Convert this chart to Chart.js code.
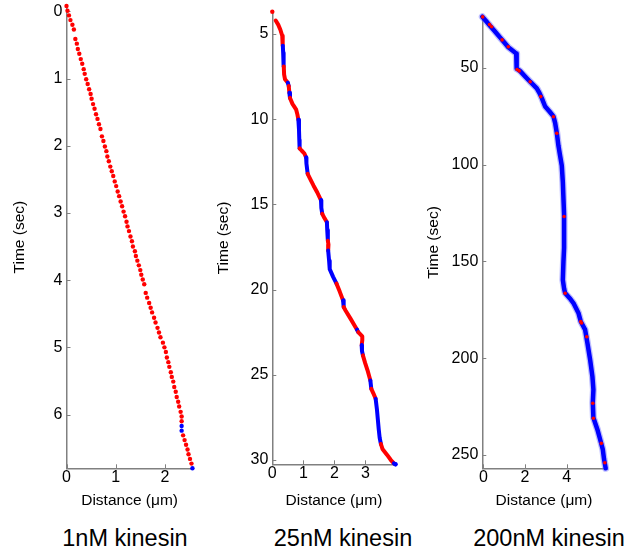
<!DOCTYPE html>
<html>
<head>
<meta charset="utf-8">
<script src="https://cdn.jsdelivr.net/npm/chart.js@4.4.0/dist/chart.umd.min.js"></script>
<style>
html,body{margin:0;padding:0;background:#fff;width:627px;height:552px;overflow:hidden;}
.panel{position:absolute;top:0;}
.cap{position:absolute;top:527px;font-family:'Liberation Sans',Arial,Helvetica,sans-serif;font-size:23.5px;line-height:23.5px;color:#000;white-space:nowrap;transform:translateX(-50%);}
</style>
</head>
<body>
<div class="panel" style="left:0px"><canvas id="c1" width="210" height="510"></canvas></div>
<div class="panel" style="left:210px"><canvas id="c2" width="210" height="510"></canvas></div>
<div class="panel" style="left:420px"><canvas id="c3" width="207" height="510"></canvas></div>
<div class="cap" style="left:125px">1nM kinesin</div>
<div class="cap" style="left:343px">25nM kinesin</div>
<div class="cap" style="left:549px">200nM kinesin</div>
<script>
// ---------------- DATA ----------------
const panelTitles = ['1nM kinesin', '25nM kinesin', '200nM kinesin'];
const xAxisTitle = 'Distance (\u03bcm)';
const yAxisTitle = 'Time (sec)';

// Panel 1 (1nM): individual frames
const time1 = [-0.08, -0.01, 0.06, 0.13, 0.20, 0.27,
 0.41, 0.48, 0.56, 0.63, 0.71, 0.78, 0.86, 0.93, 1.01, 1.08, 1.16, 1.23, 1.30, 1.38, 1.45, 1.53, 1.60, 1.68, 1.75,
 1.86, 1.93, 2.01, 2.08, 2.16, 2.23, 2.31, 2.38, 2.45, 2.53, 2.60, 2.68, 2.75, 2.83, 2.90, 2.98, 3.05, 3.13, 3.20, 3.27, 3.35, 3.42, 3.50,
 3.57, 3.64, 3.71, 3.78, 3.85, 3.92, 3.99, 4.06,
 4.19, 4.26, 4.34, 4.41, 4.48, 4.56, 4.63, 4.71, 4.78, 4.85, 4.93, 5.00, 5.07, 5.15, 5.22, 5.29, 5.37, 5.44, 5.51, 5.59, 5.66, 5.74, 5.81, 5.88, 5.96, 6.03,
 6.10, 6.17, 6.24,
 6.31, 6.38, 6.45, 6.52, 6.59, 6.66, 6.73, 6.80];
const dist1 = [0.00, 0.02, 0.05, 0.08, 0.12, 0.15,
 0.18, 0.21, 0.23, 0.26, 0.29, 0.32, 0.35, 0.37, 0.40, 0.43, 0.46, 0.49, 0.51, 0.54, 0.57, 0.60, 0.63, 0.66, 0.69,
 0.72, 0.75, 0.78, 0.81, 0.83, 0.86, 0.89, 0.92, 0.95, 0.98, 1.01, 1.04, 1.07, 1.10, 1.13, 1.16, 1.19, 1.22, 1.24, 1.27, 1.30, 1.33, 1.35,
 1.39, 1.41, 1.44, 1.47, 1.50, 1.52, 1.55, 1.58,
 1.61, 1.64, 1.68, 1.71, 1.74, 1.78, 1.81, 1.85, 1.88, 1.91, 1.96, 1.99, 2.02, 2.04, 2.07, 2.09, 2.12, 2.14, 2.17, 2.19, 2.22, 2.24, 2.27, 2.29, 2.32, 2.34,
 2.34, 2.34, 2.34,
 2.37, 2.40, 2.43, 2.46, 2.48, 2.51, 2.54, 2.56];
const blueTimes1 = [6.17, 6.24, 6.80];
const xTicks1 = [0, 1, 2];
const yTicks1 = [0, 1, 2, 3, 4, 5, 6];

// Panel 2 (25nM): trace with state of each stretch (r = moving, b = paused, n = no link)
const time2 = [3.69, 4.21, 4.45, 4.75, 5.10, 5.40, 5.69, 6.10, 6.50, 6.90, 7.37, 7.66, 7.86, 8.05, 8.45, 8.75, 9.10, 9.44, 9.73,
 10.03, 10.60, 11.20, 11.71, 11.85, 12.00, 12.25, 12.60, 13.20, 13.50, 13.90, 14.30, 14.76, 15.20, 15.55, 15.80, 16.05, 16.50,
 17.13, 17.35, 17.70, 18.30, 18.80, 19.25, 19.65, 20.10, 20.63, 21.02, 21.22, 21.70, 22.10, 22.35, 22.50, 22.75, 22.95, 23.27,
 23.60, 23.86, 24.30, 24.80, 25.33, 25.82, 26.10, 26.41, 27.00, 27.60, 28.20, 28.70, 29.06, 29.35, 29.70, 30.00, 30.20, 30.25];
const dist2 = [0.00, 0.11, 0.19, 0.26, 0.32, 0.33, 0.34, 0.35, 0.36, 0.37, 0.38, 0.41, 0.50, 0.53, 0.55, 0.57, 0.65, 0.77, 0.81,
 0.84, 0.86, 0.87, 0.88, 0.95, 1.03, 1.09, 1.10, 1.14, 1.22, 1.33, 1.45, 1.57, 1.58, 1.61, 1.68, 1.76, 1.77,
 1.79, 1.81, 1.80, 1.83, 1.85, 1.96, 2.07, 2.17, 2.28, 2.30, 2.36, 2.52, 2.65, 2.73, 2.77, 2.90, 2.90, 2.88,
 2.89, 2.92, 2.99, 3.08, 3.16, 3.19, 3.26, 3.33, 3.37, 3.40, 3.43, 3.46, 3.50, 3.55, 3.70, 3.82, 3.92, 3.97];
const state2 = ['n','r','r','r','r','r','b','b','b','r','r','r','b','r','b','r','r','r','r',
 'b','b','b','r','r','r','b','b','r','r','r','r','b','b','r','r','b','b',
 'r','r','b','b','b','b','r','r','b','r','r','r','r','b','r','r','r','b',
 'b','r','r','r','b','r','r','b','b','b','b','b','r','r','r','r','b','b'];
const xTicks2 = [0, 1, 2, 3];
const yTicks2 = [5, 10, 15, 20, 25, 30];

// Panel 3 (200nM): trace and red (moving) spots
const time3 = [23.5, 26.0, 28.2, 31.0, 34.2, 37.0, 39.3, 41.0, 42.5, 46.0, 50.3, 51.5, 54.5, 57.1, 60.5, 63.0, 65.6, 69.9, 72.5, 75.0,
 78.4, 83.5, 90.3, 95.4, 100.5, 109.0, 117.5, 126.0, 134.5, 143.0, 150.0, 159.5, 164.0, 166.3, 169.0, 171.5, 176.6, 181.0, 185.2, 192.1,
 200.7, 209.3, 216.2, 223.0, 230.8, 236.8, 241.9, 247.1, 252.2, 256.9];
const dist3 = [-0.05, 0.15, 0.32, 0.55, 0.80, 1.02, 1.20, 1.40, 1.58, 1.60, 1.60, 1.76, 2.02, 2.25, 2.57, 2.70, 2.81, 2.97, 3.18, 3.37,
 3.45, 3.53, 3.61, 3.69, 3.77, 3.82, 3.85, 3.88, 3.88, 3.88, 3.85, 3.82, 3.88, 3.93, 4.15, 4.33, 4.57, 4.68, 4.89, 5.00,
 5.13, 5.24, 5.29, 5.26, 5.29, 5.48, 5.61, 5.74, 5.80, 5.88];
const redTime3 = [23.6, 27.5, 28.7, 35.5, 39.0, 50.8, 51.5, 57.1, 64.8, 75.2, 83.7, 126.8, 166.4, 181.1, 181.8, 188.9, 223.3, 231.0, 244.0, 254.0];
const redDist3 = [-0.03, 0.30, 0.40, 0.90, 1.20, 1.62, 1.72, 2.25, 2.76, 3.37, 3.53, 3.88, 3.93, 4.68, 4.72, 4.97, 5.26, 5.29, 5.67, 5.84];
const xTicks3 = [0, 2, 4];
const yTicks3 = [50, 100, 150, 200, 250];

// ---------------- STYLE ----------------
const FONT = "'Liberation Sans', Arial, Helvetica, sans-serif";
const AXIS = '#808080';
const RED = '#ff0000';
const BLUE = '#0000ff';
const TICK_SIZE = 16;
const TITLE_SIZE = 15.5;

function pts(xs, ys) { return xs.map((v, i) => ({ x: v, y: ys[i] })); }

const inwardTicks = {
  id: 'inwardTicks',
  beforeDatasetsDraw(chart) {
    const ctx = chart.ctx, a = chart.chartArea, xs = chart.scales.x, ys = chart.scales.y;
    ctx.save();
    ctx.strokeStyle = AXIS;
    ctx.lineWidth = 1;
    ctx.beginPath();
    xs.ticks.forEach(t => {
      const px = Math.round(xs.getPixelForValue(t.value)) + 0.5;
      ctx.moveTo(px, a.bottom); ctx.lineTo(px, a.bottom - 4);
    });
    ys.ticks.forEach(t => {
      const py = Math.round(ys.getPixelForValue(t.value)) + 0.5;
      ctx.moveTo(a.left, py); ctx.lineTo(a.left + 4, py);
    });
    ctx.stroke();
    ctx.restore();
  }
};

function makeChart(id, p, datasets) {
  return new Chart(document.getElementById(id), {
    type: 'line',
    data: { datasets },
    options: {
      responsive: false, animation: false, events: [],
      layout: { padding: { top: p.padTop, right: p.padRight, left: 0, bottom: 0 } },
      plugins: { legend: { display: false }, tooltip: { enabled: false }, title: { display: false } },
      scales: {
        x: {
          type: 'linear', position: 'bottom', min: p.xr[0], max: p.xr[1],
          grid: { display: false, drawTicks: false },
          border: { display: true, color: AXIS, width: 1.5 },
          ticks: { color: '#000', font: { family: FONT, size: TICK_SIZE }, padding: 0, autoSkip: false, maxRotation: 0, callback: v => String(v) },
          afterBuildTicks: s => { s.ticks = p.xt.map(v => ({ value: v })); },
          afterFit: s => { s.height = p.xH; s.paddingLeft = 0; s.paddingRight = 0; },
          title: { display: true, text: xAxisTitle, color: '#000', font: { family: FONT, size: TITLE_SIZE }, padding: { top: 0, bottom: p.xTitlePad } }
        },
        y: {
          type: 'linear', position: 'left', reverse: true, min: p.yr[0], max: p.yr[1],
          grid: { display: false, drawTicks: false },
          border: { display: true, color: AXIS, width: 1.5 },
          ticks: { color: '#000', font: { family: FONT, size: TICK_SIZE }, padding: 4, autoSkip: false, callback: v => String(v) },
          afterBuildTicks: s => { s.ticks = p.yt.map(v => ({ value: v })); },
          afterFit: s => { s.width = p.yW; s.paddingTop = 0; s.paddingBottom = 0; },
          title: { display: true, text: yAxisTitle, color: '#000', font: { family: FONT, size: TITLE_SIZE }, padding: { top: p.yTitlePad, bottom: 0 } }
        }
      }
    },
    plugins: [inwardTicks]
  });
}

// Panel 1
makeChart('c1', { padTop: 6, padRight: 17.3, xH: 41.7, yW: 66.5, xTitlePad: 0, yTitlePad: 10.5,
  xr: [0, 2.565], yr: [-0.08, 6.80], xt: xTicks1, yt: yTicks1 }, [{
  data: pts(dist1, time1), showLine: false, clip: false,
  pointStyle: 'circle', pointRadius: 2.2, pointBorderWidth: 0,
  pointBackgroundColor: time1.map(t => blueTimes1.includes(t) ? BLUE : RED)
}]);

// Panel 2
const col2 = s => s === 'b' ? BLUE : (s === 'r' ? RED : 'rgba(0,0,0,0)');
makeChart('c2', { padTop: 11.7, padRight: 24.5, xH: 45.7, yW: 62.3, xTitlePad: 0, yTitlePad: 4.5,
  xr: [0, 3.97], yr: [3.69, 30.25], xt: xTicks2, yt: yTicks2 }, [{
  data: pts(dist2, time2), showLine: true, clip: false, tension: 0,
  borderWidth: 4, borderCapStyle: 'round', borderJoinStyle: 'round', borderColor: RED,
  segment: { borderColor: ctx => col2(state2[ctx.p0DataIndex]) },
  pointRadius: ctx => (ctx.dataIndex === 0 || ctx.dataIndex === time2.length - 1) ? 2.2 : 0,
  pointBorderWidth: 0,
  pointBackgroundColor: ctx => ctx.dataIndex === 0 ? RED : BLUE
}]);

// Panel 3
makeChart('c3', { padTop: 16.7, padRight: 21.3, xH: 41.7, yW: 62.3, xTitlePad: 0, yTitlePad: 4.5,
  xr: [-0.05, 5.88], yr: [23.5, 256.9], xt: xTicks3, yt: yTicks3 }, [
  { data: pts(redDist3, redTime3), showLine: false, clip: false, pointStyle: 'circle', pointRadius: 1.8, pointBorderWidth: 0, pointBackgroundColor: RED },
  { data: pts(dist3, time3), showLine: true, clip: false, tension: 0, borderWidth: 4.5, borderColor: BLUE,
    borderCapStyle: 'round', borderJoinStyle: 'round', pointRadius: 0 },
  { data: pts(dist3, time3), showLine: true, clip: false, tension: 0, borderWidth: 7, borderColor: 'rgba(110,110,255,0.45)',
    borderCapStyle: 'round', borderJoinStyle: 'round', pointRadius: 0 }
]);
</script>
</body>
</html>
